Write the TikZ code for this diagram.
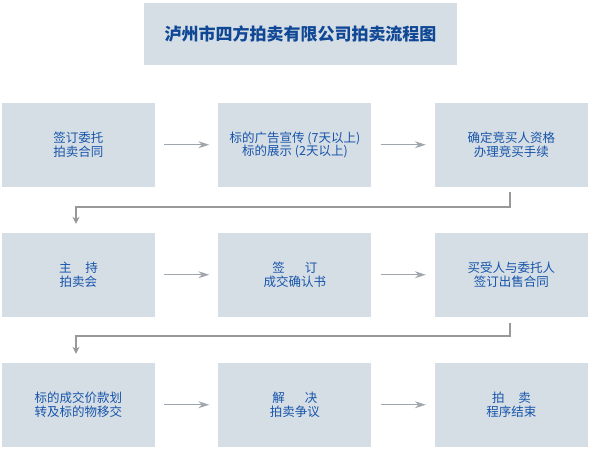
\documentclass[tikz,border=0pt]{standalone}
\usepackage{fontspec}
\setmainfont{Noto Sans CJK SC}
\usepackage{tikz}
\usetikzlibrary{arrows.meta,matrix,positioning}
\definecolor{boxgray}{RGB}{214,222,229}
\definecolor{titleblue}{RGB}{16,72,150}
\definecolor{textblue}{RGB}{22,84,170}
\definecolor{arrowgray}{RGB}{160,166,173}
\definecolor{linegray}{RGB}{153,153,153}

\begin{document}
\begin{tikzpicture}
          [x=1pt,y=1pt,
            every node/.style={rectangle,fill=boxgray,text=textblue,align=center,inner sep=0pt,
              minimum width=153pt,minimum height=84.5pt,font=\fontsize{12.5}{13.5}\selectfont},
            head/.style={minimum width=313pt,minimum height=62pt,text=titleblue,
              font=\fontsize{17}{20}\selectfont\bfseries},
            flow/.style={draw=arrowgray,line width=1.3pt,-{Stealth[length=11pt,width=7pt]},
              shorten <=9pt,shorten >=9pt},
            turn/.style={draw=linegray,line width=2pt,-{Stealth[length=7pt,width=7pt]}},
          ]
          \useasboundingbox (0,0) rectangle (590,-450);

          \node[head] (title) at (300.5,-34) {泸州市四方拍卖有限公司拍卖流程图};

          \matrix (m) [ampersand replacement=\&,fill=none,draw=none,rectangle,row sep=45.5pt,%
            column sep=63.5pt] at (295,-274.75) {
            \node (sign) {签订委托\\拍卖合同}; \& \node (promo) {标的广告宣传 (7天以上)\\标的展示 (2天以上)}; \& \node (qualify) {确定竞买人资格\\办理竞买手续};\\
            \node (host) {主\hspace{1.1em}持\\拍卖会}; \& \node (confirm) {签\hspace{1.6em}订\\成交确认书}; \& \node (contract) {买受人与委托人\\签订出售合同};\\
            \node (transfer) {标的成交价款划\\转及标的物移交}; \& \node (dispute) {解\hspace{1.6em}决\\拍卖争议}; \& \node (finish) {拍\hspace{1.1em}卖\\程序结束};\\
          };

          \draw[flow] (sign) -- (promo);
          \draw[flow] (promo) -- (qualify);
          \draw[flow] (host) -- (confirm);
          \draw[flow] (confirm) -- (contract);
          \draw[flow] (transfer) -- (dispute);
          \draw[flow] (dispute) -- (finish);

          \draw[turn] ([xshift=-1.5pt,yshift=-5pt]qualify.south) -- ++(0,-14.5) -| ([xshift=-2.5pt,yshift=8.5pt]host.north);
          \draw[turn] ([xshift=-1.5pt,yshift=-6pt]contract.south) -- ++(0,-13) -| ([xshift=-2.5pt,yshift=8.5pt]transfer.north);
        \end{tikzpicture}
\end{document}
